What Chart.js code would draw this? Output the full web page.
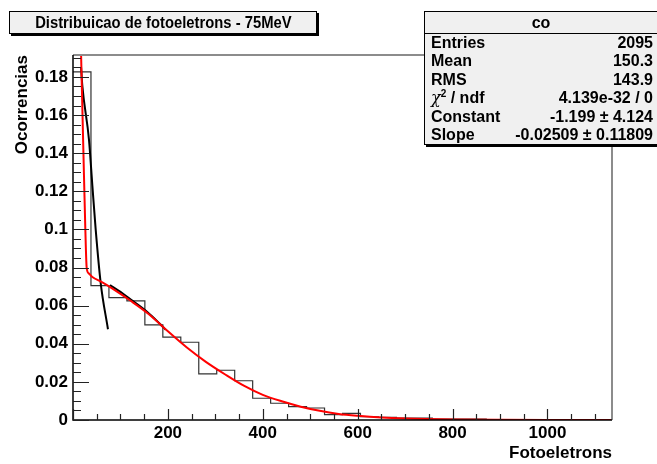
<!DOCTYPE html>
<html><head><meta charset="utf-8">
<script src="https://cdn.jsdelivr.net/npm/chart.js@4.4.1/dist/chart.umd.min.js"></script>
<style>
html,body{margin:0;padding:0;background:#fff;}
body{width:657px;height:464px;overflow:hidden;position:relative;font-family:"Liberation Sans",Arial,sans-serif;font-weight:bold;color:#000}
#c{position:absolute;left:0;top:0}
.tbox{position:absolute;left:9px;top:11px;width:306px;height:21px;border:1px solid #000;background:#f0f0f0;box-shadow:2px 2px 0 #000;font-size:17px;line-height:21px;text-align:center;white-space:nowrap;overflow:hidden}
.tbox span{display:inline-block;transform:scaleX(0.87);transform-origin:center}
.sbox{position:absolute;left:424px;top:11px;width:240px;border:1px solid #000;background:#f0f0f0;box-shadow:2px 2px 0 #000;font-size:16px}
.sbox .hd{height:21px;line-height:21px;text-align:center;border-bottom:1px solid #000;padding-right:8px}
.sbox .row{height:18.4px;line-height:18.4px;position:relative;padding-left:6px}
.sbox .row .v{position:absolute;right:12px;top:0}
</style></head>
<body>
<canvas id="c" width="657" height="464"></canvas>
<div class="tbox"><span>Distribuicao de fotoeletrons - 75MeV</span></div>
<div class="sbox">
 <div class="hd">co</div>
 <div class="row">Entries<span class="v">2095</span></div>
 <div class="row">Mean<span class="v">150.3</span></div>
 <div class="row">RMS<span class="v">143.9</span></div>
 <div class="row"><span style="font-family:'DejaVu Serif',serif;font-style:italic;font-weight:normal">&#967;</span><sup style="font-size:10px;line-height:0">2</sup> / ndf<span class="v">4.139e-32 / 0</span></div>
 <div class="row">Constant<span class="v">-1.199 &#177; 4.124</span></div>
 <div class="row">Slope<span class="v">-0.02509 &#177; 0.11809</span></div>
</div>
<script>
// ---- data ----
const histLow = 0;
const histHigh = 1136;
const histValues = [0.1826,0.0705,0.0642,0.0625,0.0499,0.0435,0.0408,0.0242,0.0261,0.0206,
  0.0114,0.0088,0.0070,0.0063,0.0028,0.0035,0.0017,0.0014,0.0010,0.0010,
  0.0005,0.0005,0.0005,0,0,0,0,0,0,0];
const redFitX = [17,22,26,28.8,33,40.8,60,80,120,160,200,240,280,320,360,400,440,480,520,560,600,650,700,800,900,1000,1136];
const redFitY = [0.192,0.14,0.10,0.080,0.077,0.075,0.0725,0.0695,0.0628,0.0555,0.0465,0.038,0.0305,0.024,0.018,0.0132,0.0098,0.0070,0.0048,0.0032,0.0022,0.0013,0.0008,0.0003,0.0001,0.00003,0];
const expoFitX = [17,19.8,33.7,40.8,47.8,58.3,73.7];
const expoFitY = [0.185,0.175,0.147,0.123,0.100,0.072,0.0476];
const fit2X = [78,100,117,156,185,195];
const fit2Y = [0.0708,0.0672,0.0641,0.0568,0.0500,0.0475];
const xTickStep = 200, xMinorStep = 50;
const yTickStep = 0.02, yMinorStep = 0.005;
const yMax = 0.1915;

// ---- build datasets ----
const nb = histValues.length;
const bw = (histHigh - histLow) / nb;
const histPts = histValues.map((v,i)=>({x: histLow + i*bw, y: v}));
histPts.push({x: histHigh, y: histValues[nb-1]});
const zip = (xs,ys)=>xs.map((x,i)=>({x:x,y:ys[i]}));

const FONT = 'Liberation Sans';
const axisPlugin = {
  id:'rootAxes',
  afterDatasetsDraw(chart){
    const {ctx, chartArea:a, scales:{x,y}} = chart;
    ctx.save();
    ctx.strokeStyle='#8c8c8c'; ctx.lineWidth=2;
    ctx.beginPath(); ctx.moveTo(a.left,a.top); ctx.lineTo(a.right,a.top); ctx.lineTo(a.right,a.bottom); ctx.stroke();
    ctx.strokeStyle='#000'; ctx.lineWidth=1.5;
    ctx.beginPath(); ctx.moveTo(a.left,a.top); ctx.lineTo(a.left,a.bottom); ctx.lineTo(a.right,a.bottom); ctx.stroke();
    ctx.lineWidth=1.2; ctx.strokeStyle='#222';
    ctx.beginPath();
    for(let v=0; v<=yMax+1e-9; v+=yMinorStep){
      const p=Math.round(y.getPixelForValue(v))+0.5;
      const major = Math.abs(v/yTickStep - Math.round(v/yTickStep))<1e-6;
      ctx.moveTo(a.left,p); ctx.lineTo(a.left+(major?16:8),p);
    }
    for(let v=0; v<=histHigh; v+=xMinorStep){
      const p=Math.round(x.getPixelForValue(v))+0.5;
      const major = v % xTickStep === 0;
      ctx.moveTo(p,a.bottom); ctx.lineTo(p,a.bottom-(major?11:6));
    }
    ctx.stroke();
    ctx.restore();
  }
};

new Chart(document.getElementById('c'),{
  type:'line',
  data:{datasets:[
    {data:histPts, stepped:'before', borderColor:'#333', borderWidth:1.2, pointRadius:0, fill:false, order:3},
    {data:zip(expoFitX,expoFitY), borderColor:'#000', borderWidth:2, pointRadius:0, cubicInterpolationMode:'monotone', fill:false, order:2},
    {data:zip(fit2X,fit2Y), borderColor:'#000', borderWidth:2, pointRadius:0, cubicInterpolationMode:'monotone', fill:false, order:2},
    {data:zip(redFitX,redFitY), borderColor:'#ff0000', borderWidth:2, pointRadius:0, cubicInterpolationMode:'monotone', fill:false, order:1}
  ]},
  options:{
    responsive:false, animation:false, events:[],
    layout:{padding:{left:0,right:45,top:55,bottom:0}},
    plugins:{legend:{display:false},tooltip:{enabled:false},title:{display:false}},
    scales:{
      x:{type:'linear',min:histLow,max:histHigh,
         grid:{display:false,drawTicks:false}, border:{display:false},
         ticks:{stepSize:xTickStep,includeBounds:false,autoSkip:false,maxRotation:0,padding:3,color:'#000',
                font:{family:FONT,size:17,weight:'bold'},callback:v=>v===0?'':String(v)},
         title:{display:true,text:'Fotoeletrons',align:'end',color:'#000',font:{family:FONT,size:17,weight:'bold'},padding:{top:0,bottom:0}},
         afterFit:s=>{s.height=44;}},
      y:{type:'linear',min:0,max:yMax,
         grid:{display:false,drawTicks:false}, border:{display:false},
         ticks:{stepSize:yTickStep,includeBounds:false,autoSkip:false,padding:5,color:'#000',
                font:{family:FONT,size:17,weight:'bold'},callback:v=>String(+v.toFixed(2))},
         title:{display:true,text:'Ocorrencias',align:'end',color:'#000',font:{family:FONT,size:17,weight:'bold'},padding:{top:12,bottom:0}},
         afterFit:s=>{s.width=73;}}
    }
  },
  plugins:[axisPlugin]
});
</script>
</body></html>
